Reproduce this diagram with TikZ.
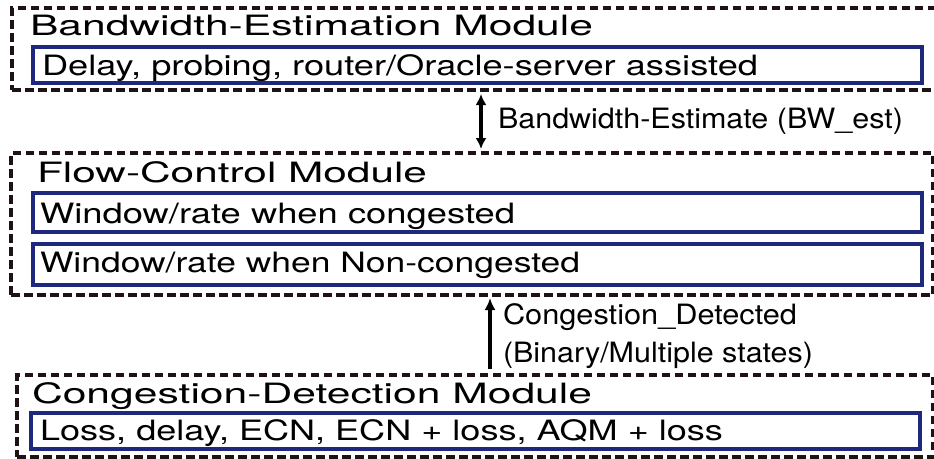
\documentclass[tikz,border=0pt]{standalone}
\usepackage{fontspec}
\setmainfont{TeX Gyre Heros}
\usepackage{graphicx}
\usetikzlibrary{arrows.meta}
\definecolor{dashink}{HTML}{1E1212}
\definecolor{navyline}{HTML}{1E287D}
\newcommand{\fitw}[2]{\resizebox{#1pt}{\height}{\fontsize{28pt}{32pt}\selectfont #2}}
\tikzset{
  modulebox/.style={draw=dashink, line width=4.2pt, dash pattern=on 8.5pt off 4.5pt,
    inner sep=0pt, outer sep=0pt},
  itembox/.style={draw=navyline, line width=3.6pt, inner sep=0pt, outer sep=0pt},
  txt/.style={inner sep=0pt, outer sep=0pt, anchor=base west, text=black},
  flow/.style={line width=4.5pt, draw=black},
}
\begin{document}
\begin{tikzpicture}[x=1pt, y=-1pt]
\useasboundingbox (0,0) rectangle (934,458);
% module frames
\node[modulebox, minimum width=928pt, minimum height=82pt] (bwm) at (476,49) {};
\node[modulebox, minimum width=922pt, minimum height=142pt] (fcm) at (472,224) {};
\node[modulebox, minimum width=916pt, minimum height=82pt] (cdm) at (475,416) {};
% item frames
\node[itembox, minimum width=889pt, minimum height=36pt] (bwi) at (477.5,65) {};
\node[itembox, minimum width=889pt, minimum height=39pt] (fci1) at (477.5,212.5) {};
\node[itembox, minimum width=889pt, minimum height=41pt] (fci2) at (477.5,264.5) {};
\node[itembox, minimum width=889pt, minimum height=36pt] (cdi) at (475.5,431) {};
% texts
\node[txt] (bwt) at (30,35) {\fitw{563}{Bandwidth-Estimation Module}};
\node[txt] (bwx) at (42,75) {\fitw{716}{Delay, probing, router/Oracle-server assisted}};
\node[txt] (fct) at (37,182) {\fitw{390}{Flow-Control Module}};
\node[txt] (fcx1) at (40,223) {\fitw{475}{Window/rate when congested}};
\node[txt] (fcx2) at (40,272) {\fitw{540}{Window/rate when Non-congested}};
\node[txt] (cdt) at (32,403) {\fitw{560}{Congestion-Detection Module}};
\node[txt] (cdx) at (40,440) {\fitw{683}{Loss, delay, ECN, ECN + loss, AQM + loss}};
% arrow labels
\node[txt] (lb1) at (498,128) {\fitw{405}{Bandwidth-Estimate (BW\_est)}};
\node[txt] (lb2) at (503,324) {\fitw{294}{Congestion\_Detected}};
\node[txt] (lb3) at (503,362) {\fitw{310}{(Binary/Multiple states)}};
% connectors
\coordinate (ax1) at (481,0);
\coordinate (ax2) at (490,0);
\draw[flow, {Latex[length=11pt,width=11pt]}-{Latex[length=11pt,width=11pt]},
  shorten <=4pt, shorten >=4pt] (bwm.south -| ax1) -- (fcm.north -| ax1);
\draw[flow, -{Latex[length=12pt,width=11pt]}, shorten <=6pt, shorten >=3pt]
  (cdm.north -| ax2) -- (fcm.south -| ax2);
\end{tikzpicture}
\end{document}
